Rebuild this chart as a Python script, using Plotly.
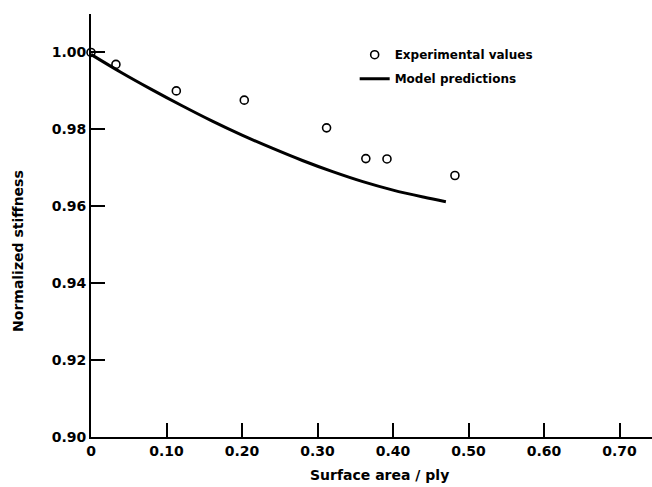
import plotly.graph_objects as go

# Experimental values
exp_x = [0.0, 0.033, 0.113, 0.203, 0.312, 0.364, 0.392, 0.482]
exp_y = [1.000, 0.9969, 0.990, 0.9876, 0.9804, 0.9724, 0.9723, 0.968]

# Model predictions
mod_x = [0.0, 0.04, 0.08, 0.12, 0.16, 0.20, 0.24, 0.28, 0.32, 0.36, 0.40, 0.44, 0.47]
mod_y = [0.9995, 0.9948, 0.9904, 0.9862, 0.9822, 0.9785, 0.9751, 0.9719, 0.9690, 0.9664, 0.9642, 0.9624, 0.9612]

x_ticks = [0.0, 0.1, 0.2, 0.3, 0.4, 0.5, 0.6, 0.7]
x_ticklabels = ["0", "0.10", "0.20", "0.30", "0.40", "0.50", "0.60", "0.70"]
y_ticks = [0.90, 0.92, 0.94, 0.96, 0.98, 1.00]
y_ticklabels = ["0.90", "0.92", "0.94", "0.96", "0.98", "1.00"]

FONT = "DejaVu Sans"

fig = go.Figure()
fig.add_trace(go.Scatter(
    x=exp_x, y=exp_y, mode="markers", name="Experimental values",
    legendgroup="exp",
    marker=dict(symbol="circle-open", size=8, color="black", line=dict(width=1.6)),
    cliponaxis=False,
))
fig.add_trace(go.Scatter(
    x=mod_x, y=mod_y, mode="lines", name="Model predictions",
    legendgroup="mod",
    line=dict(color="black", width=3, shape="spline"),
))

fig.update_layout(
    width=652, height=487,
    margin=dict(l=91, r=0, t=14, b=50),
    paper_bgcolor="white", plot_bgcolor="white",
    showlegend=True,
    legend=dict(
        x=0.47, y=0.938, xanchor="left", yanchor="top",
        bgcolor="rgba(0,0,0,0)",
        font=dict(family=FONT, size=12, color="black", weight="bold"),
        tracegroupgap=5,
    ),
    xaxis=dict(
        range=[0, 0.743], showgrid=False, zeroline=False,
        showline=True, linecolor="black", linewidth=2,
        ticks="inside", ticklen=14, tickwidth=1.5, tickcolor="black",
        tickvals=x_ticks, ticktext=x_ticklabels,
        tickfont=dict(family=FONT, size=14, color="black", weight="bold"),
    ),
    yaxis=dict(
        range=[0.90, 1.01], showgrid=False, zeroline=False,
        showline=True, linecolor="black", linewidth=2,
        ticks="inside", ticklen=14, tickwidth=1.5, tickcolor="black",
        tickvals=y_ticks, ticktext=y_ticklabels,
        tickfont=dict(family=FONT, size=14, color="black", weight="bold"),
    ),
    annotations=[
        dict(text="Normalized stiffness", xref="paper", yref="paper",
             x=-0.13, y=0.44, xanchor="center", yanchor="middle", textangle=-90,
             showarrow=False, font=dict(family=FONT, size=14, color="black", weight="bold")),
        dict(text="Surface area / ply", xref="paper", yref="paper",
             x=0.515, y=-0.09, xanchor="center", yanchor="middle",
             showarrow=False, font=dict(family=FONT, size=14, color="black", weight="bold")),
    ],
)

fig.write_html("out.html")
